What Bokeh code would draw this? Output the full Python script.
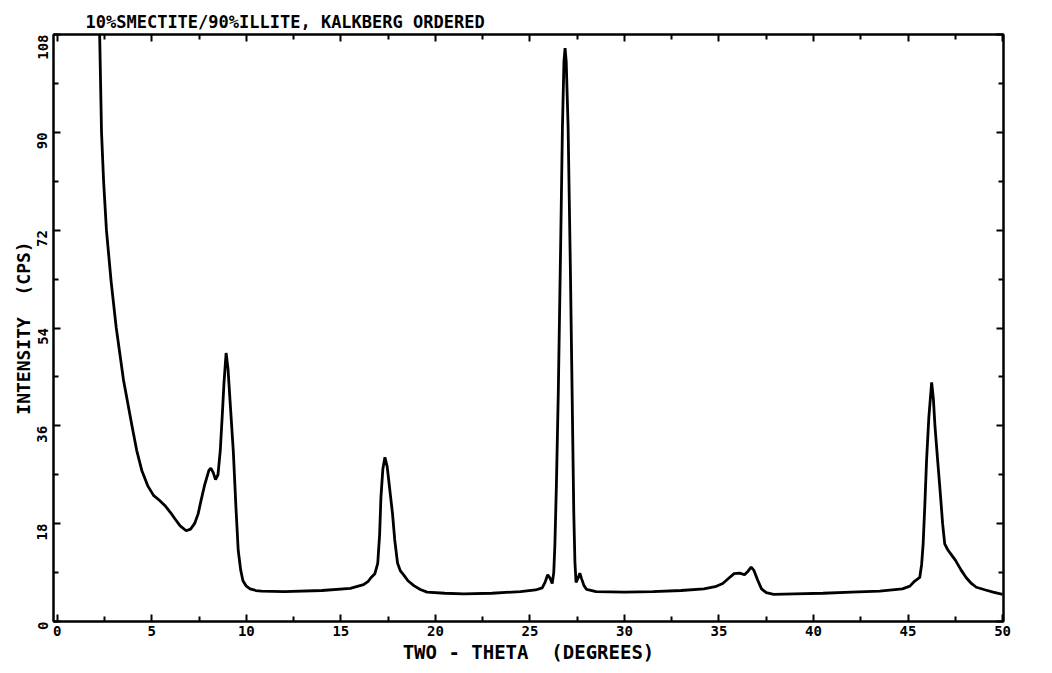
import math
from bokeh.plotting import figure
from bokeh.models import LinearAxis, Range1d, FixedTicker, CustomJSTickFormatter
from bokeh.embed import file_html
from bokeh.resources import INLINE

# ---- data ----
two_theta = [
    2.00, 2.24, 2.34, 2.45, 2.60, 2.85, 3.12, 3.50, 3.95, 4.20, 4.47, 4.78, 5.09, 5.40, 5.70, 6.00,
    6.22, 6.50, 6.82, 7.05, 7.26, 7.45, 7.60, 7.80, 8.02, 8.12, 8.25, 8.37, 8.50, 8.62, 8.72,
    8.82, 8.93, 9.03, 9.15, 9.31, 9.45, 9.57, 9.70, 9.82, 10.0, 10.2, 10.5, 10.8, 12.0, 14.0,
    15.5, 16.2, 16.45, 16.6, 16.8, 16.95, 17.05, 17.12, 17.22, 17.33, 17.45, 17.58, 17.73, 17.85, 18.0,
    18.15, 18.34, 18.55, 18.86, 19.2, 19.56, 20.5, 21.5, 23.0, 24.5, 25.3, 25.65, 25.8, 25.94, 26.06,
    26.18, 26.26, 26.32, 26.40, 26.50, 26.62, 26.72, 26.80, 26.86, 26.92, 27.02, 27.14, 27.24, 27.32, 27.38,
    27.44, 27.55, 27.64, 27.74, 27.86, 28.0, 28.5, 30.0, 31.5, 33.0, 34.2, 34.8, 35.2, 35.5, 35.8,
    36.1, 36.35, 36.55, 36.7, 36.85, 37.05, 37.25, 37.5, 37.9, 39.0, 40.5, 42.0, 43.5, 44.7, 45.1,
    45.34, 45.5, 45.62, 45.72, 45.80, 45.89, 45.98, 46.1, 46.25, 46.34, 46.43, 46.57, 46.71, 46.83, 46.94,
    47.1, 47.25, 47.52, 47.8, 48.07, 48.35, 48.61, 49.1, 49.5, 50.0,
]
intensity = [
    125.0, 108.2, 90.0, 81.0, 72.0, 62.5, 54.0, 44.5, 36.0, 31.5, 27.8, 25.0, 23.2, 22.3, 21.3, 20.0,
    18.9, 17.6, 16.7, 17.0, 18.0, 19.8, 22.2, 25.2, 27.8, 28.2, 27.4, 26.1, 27.0, 31.4, 37.5,
    44.0, 49.4, 46.5, 40.0, 31.4, 21.0, 13.1, 9.5, 7.5, 6.5, 6.0, 5.7, 5.6, 5.5, 5.7,
    6.1, 6.8, 7.4, 8.1, 8.8, 10.7, 16.0, 22.9, 28.0, 30.2, 28.5, 24.5, 19.9, 15.0, 10.7,
    9.3, 8.5, 7.5, 6.6, 5.9, 5.4, 5.2, 5.1, 5.2, 5.5, 5.8, 6.2, 7.2, 8.6, 8.0,
    7.0, 9.0, 14.0, 25.0, 42.0, 68.0, 91.0, 103.0, 105.5, 103.0, 91.0, 65.0, 40.0, 20.0, 11.0,
    7.2, 8.0, 8.9, 7.8, 6.6, 5.9, 5.5, 5.4, 5.5, 5.7, 6.0, 6.4, 7.0, 7.9, 8.8,
    8.9, 8.6, 9.3, 10.0, 9.4, 7.6, 6.0, 5.3, 5.0, 5.1, 5.2, 5.4, 5.6, 6.0, 6.5,
    7.4, 7.8, 8.1, 10.5, 14.3, 21.5, 29.6, 37.5, 44.0, 41.0, 35.7, 29.5, 23.5, 18.0, 14.3,
    13.2, 12.5, 11.2, 9.5, 8.1, 7.0, 6.3, 5.8, 5.4, 5.0,
]
x_ticks = [0, 5, 10, 15, 20, 25, 30, 35, 40, 45, 50]
x_minor = [2.5, 7.5, 12.5, 17.5, 22.5, 27.5, 32.5, 37.5, 42.5, 47.5]
y_ticks = [0, 18, 36, 54, 72, 90, 108]
y_minor = [9, 27, 45, 63, 81, 99]

title_text = "10%SMECTITE/90%ILLITE, KALKBERG ORDERED"
x_label = "TWO\u00a0-\u00a0THETA\u00a0\u00a0(DEGREES)"
y_label = "INTENSITY\u00a0\u00a0(CPS)"

FONT = "DejaVu Sans Mono"

p = figure(
    width=1040, height=668,
    x_range=Range1d(-0.2, 50.05), y_range=Range1d(0, 108),
    output_backend="svg", toolbar_location=None,
    min_border_left=53, min_border_right=37, min_border_top=34, min_border_bottom=47,
    x_axis_label=x_label, y_axis_label=y_label,
)
p.title.text = title_text
p.title.text_font = FONT
p.title.text_font_size = "17px"
p.title.text_font_style = "bold"
p.title.text_color = "black"
p.title.align = "left"
p.title.offset = 32
p.title.standoff = 6

p.background_fill_color = "white"
p.border_fill_color = "white"
p.outline_line_color = "black"
p.outline_line_width = 2
p.xgrid.visible = False
p.ygrid.visible = False

p.line(two_theta, intensity, line_color="black", line_width=2.8)


def style_axis(ax, major, minor, labels=True):
    ax.ticker = FixedTicker(ticks=major, minor_ticks=minor)
    ax.axis_line_color = "black"
    ax.axis_line_width = 2
    ax.major_tick_in = 7
    ax.major_tick_out = 0
    ax.minor_tick_in = 5
    ax.minor_tick_out = 0
    ax.major_tick_line_width = 2
    ax.minor_tick_line_width = 2
    ax.major_tick_line_color = "black"
    ax.minor_tick_line_color = "black"
    ax.major_label_text_font = FONT
    ax.major_label_text_font_style = "bold"
    ax.major_label_text_font_size = "14px"
    ax.major_label_text_color = "black"
    ax.axis_label_text_font = FONT
    ax.axis_label_text_font_style = "bold"
    ax.axis_label_text_font_size = "19px"
    ax.axis_label_text_color = "black"
    if not labels:
        ax.formatter = CustomJSTickFormatter(code="return '';")


xa = p.xaxis[0]
style_axis(xa, x_ticks, x_minor)
xa.major_label_standoff = 4
xa.axis_label_standoff = 2

ya = p.yaxis[0]
style_axis(ya, y_ticks, y_minor)
ya.major_label_orientation = math.pi / 2
ya.major_label_standoff = 11
ya.axis_label_standoff = -4
ya.axis_label_text_font_size = "18px"

top = LinearAxis()
style_axis(top, x_ticks, x_minor, labels=False)
p.add_layout(top, "above")
right = LinearAxis()
style_axis(right, y_ticks, y_minor, labels=False)
p.add_layout(right, "right")

open("out.html", "w").write(file_html(p, INLINE))
